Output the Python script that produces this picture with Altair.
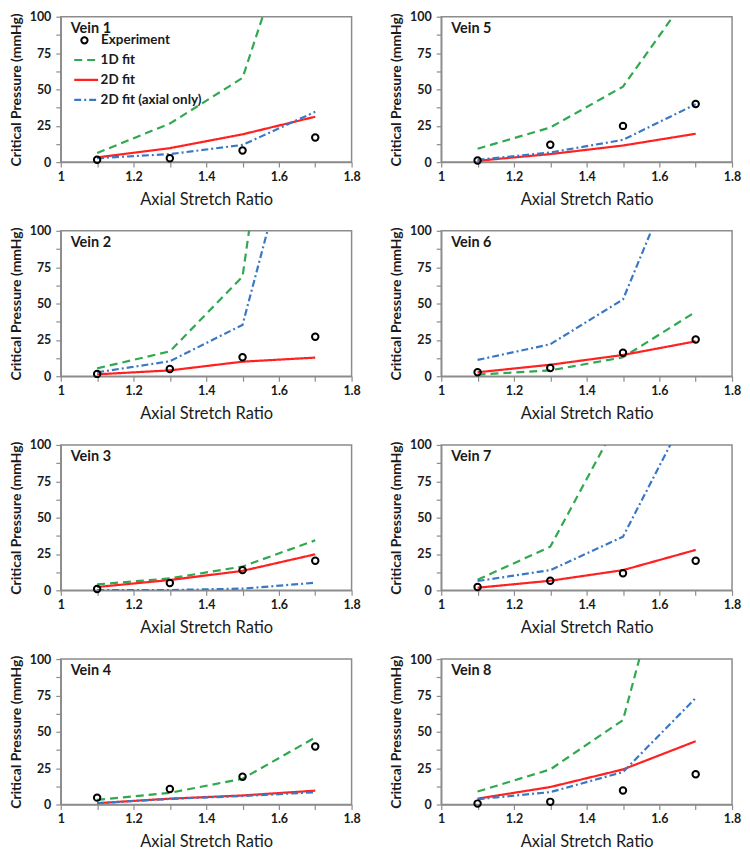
import altair as alt
import pandas as pd

# ---------------- data ----------------
stretch = [1.1, 1.3, 1.5, 1.7]
veins = ["Vein 1", "Vein 2", "Vein 3", "Vein 4", "Vein 5", "Vein 6", "Vein 7", "Vein 8"]

experiment = {
    "Vein 1": [1.6, 2.7, 8.0, 16.9],
    "Vein 2": [1.6, 4.9, 13.0, 27.2],
    "Vein 3": [0.9, 5.0, 13.9, 20.3],
    "Vein 4": [4.7, 10.6, 19.1, 39.9],
    "Vein 5": [1.1, 11.9, 24.9, 40.0],
    "Vein 6": [2.7, 5.6, 16.2, 25.2],
    "Vein 7": [2.3, 6.6, 11.8, 20.3],
    "Vein 8": [0.6, 1.8, 9.6, 20.8],
}
fit_1d = {
    "Vein 1": [6.2, 26.5, 57.9, 210.0],
    "Vein 2": [5.4, 17.1, 68.5, 420.0],
    "Vein 3": [4.1, 8.2, 16.4, 34.4],
    "Vein 4": [3.1, 8.0, 17.7, 46.1],
    "Vein 5": [9.2, 23.8, 51.9, 122.0],
    "Vein 6": [1.1, 4.0, 13.0, 44.3],
    "Vein 7": [7.3, 30.0, 123.0, 250.0],
    "Vein 8": [8.9, 24.1, 58.0, 245.0],
}
fit_2d = {
    "Vein 1": [3.2, 9.6, 19.1, 31.2],
    "Vein 2": [1.3, 4.0, 10.0, 12.8],
    "Vein 3": [2.3, 7.1, 13.4, 24.8],
    "Vein 4": [0.9, 4.0, 6.2, 9.5],
    "Vein 5": [0.9, 5.5, 11.4, 19.5],
    "Vein 6": [2.7, 7.9, 14.6, 24.0],
    "Vein 7": [1.8, 6.6, 13.9, 27.8],
    "Vein 8": [4.0, 12.0, 24.1, 43.5],
}
fit_2d_axial = {
    "Vein 1": [2.7, 5.5, 11.8, 34.6],
    "Vein 2": [2.7, 10.3, 35.3, 224.0],
    "Vein 3": [0.1, 0.2, 1.2, 5.2],
    "Vein 4": [0.9, 3.8, 5.8, 8.4],
    "Vein 5": [1.6, 6.6, 15.3, 39.8],
    "Vein 6": [11.2, 22.0, 52.8, 174.0],
    "Vein 7": [6.4, 13.9, 36.9, 134.0],
    "Vein 8": [3.6, 8.5, 22.3, 73.2],
}

series_names = ["Experiment", "1D fit", "2D fit", "2D fit (axial only)"]
line_series = ["1D fit", "2D fit", "2D fit (axial only)"]
line_colors = ["#2fa84f", "#ff2020", "#3a78c6"]
line_dashes = [[8, 5], [1, 0], [7, 3, 2, 3]]

x_ticks = [1.0, 1.1, 1.2, 1.3, 1.4, 1.5, 1.6, 1.7, 1.8]
y_ticks = [0, 12.5, 25, 37.5, 50, 62.5, 75, 87.5, 100]

rows = []
for v in veins:
    for name, src in zip(series_names, [experiment, fit_1d, fit_2d, fit_2d_axial]):
        for xv, yv in zip(stretch, src[v]):
            rows.append({"vein": v, "ratio": xv, "series": name, "pressure": yv})
df = pd.DataFrame(rows)

FONT = "Lato"
AX_COLOR = "#8c8c8c"
TXT = "#1a1a1a"


def panel(vein, show_legend):
    d_pts = df[(df.vein == vein) & (df.series == "Experiment")]
    d_lines = df[(df.vein == vein) & (df.series != "Experiment")]

    x = alt.X(
        "ratio:Q",
        scale=alt.Scale(domain=[1.0, 1.8], nice=False, zero=False),
        axis=alt.Axis(
            values=x_ticks,
            labelExpr="round(datum.value*10) % 2 == 0 ? (datum.value == 1 ? '1' : format(datum.value, '.1f')) : ''",
            labelFlush=False,
            title="Axial Stretch Ratio",
        ),
    )
    y = alt.Y(
        "pressure:Q",
        scale=alt.Scale(domain=[0, 100], nice=False),
        axis=alt.Axis(
            values=y_ticks,
            labelExpr="datum.value % 25 == 0 ? datum.label : ''",
            title="Critical Pressure (mmHg)",
        ),
    )

    if show_legend:
        line_leg = alt.Legend(
            title=None, orient="none", legendX=12, legendY=30, symbolType="stroke",
            symbolSize=576, symbolStrokeWidth=2.2, labelFontSize=13.5, labelFont=FONT,
            labelFontWeight="bold", labelColor=TXT, padding=0, labelOffset=1,
            rowPadding=-12,
        )
        pt_leg = alt.Legend(
            title=None, orient="none", legendX=17, legendY=17, symbolType="circle",
            symbolSize=40, symbolStrokeWidth=2, symbolStrokeColor="black",
            symbolFillColor="white", labelFontSize=13.5, labelFont=FONT,
            labelFontWeight="bold", labelColor=TXT, padding=0, labelOffset=10,
        )
    else:
        line_leg = None
        pt_leg = None

    lines = alt.Chart(d_lines).mark_line(clip=True, strokeWidth=2.2).encode(
        x=x,
        y=y,
        color=alt.Color("series:N", scale=alt.Scale(domain=line_series, range=line_colors), legend=line_leg),
        strokeDash=alt.StrokeDash("series:N", scale=alt.Scale(domain=line_series, range=line_dashes), legend=line_leg),
    )
    pts = alt.Chart(d_pts).mark_point(filled=False, stroke="black", strokeWidth=2, size=42, opacity=1).encode(
        x=x,
        y=y,
        shape=alt.Shape("series:N", scale=alt.Scale(domain=["Experiment"], range=["circle"]), legend=pt_leg),
    )
    label = alt.Chart(alt.Data(values=[{"label": vein}])).mark_text(
        align="left", baseline="alphabetic", fontSize=14.5, font=FONT, fontWeight="bold", color=TXT
    ).encode(x=alt.value(10), y=alt.value(16), text="label:N")
    return alt.layer(lines, pts, label).properties(width=292, height=146)


order = ["Vein 1", "Vein 5", "Vein 2", "Vein 6", "Vein 3", "Vein 7", "Vein 4", "Vein 8"]
panels = [panel(v, v == "Vein 1") for v in order]

chart = alt.concat(*panels, columns=2, spacing=alt.RowColnumber(row=15, column=27)).resolve_scale(
    color="independent", strokeDash="independent", shape="independent"
).properties(
    padding={"left": 0, "top": 0, "right": 0, "bottom": 0}
).configure_view(
    stroke=AX_COLOR, strokeWidth=1.5
).configure_axis(
    grid=False,
    domainColor=AX_COLOR,
    domainWidth=1.5,
    tickColor=AX_COLOR,
    tickWidth=1.2,
    tickSize=5,
    labelFont=FONT,
    labelFontSize=12.5,
    labelFontWeight="bold",
    labelColor=TXT,
    titleFont=FONT,
    titleColor=TXT,
    labelPadding=3,
).configure_axisX(titlePadding=9, titleFontSize=16.5, titleFontWeight="normal").configure_axisY(
    labelPadding=5, titlePadding=6, titleFontSize=14, titleFontWeight="bold"
)

chart.save("out.html", embed_options={"renderer": "svg", "actions": False})
